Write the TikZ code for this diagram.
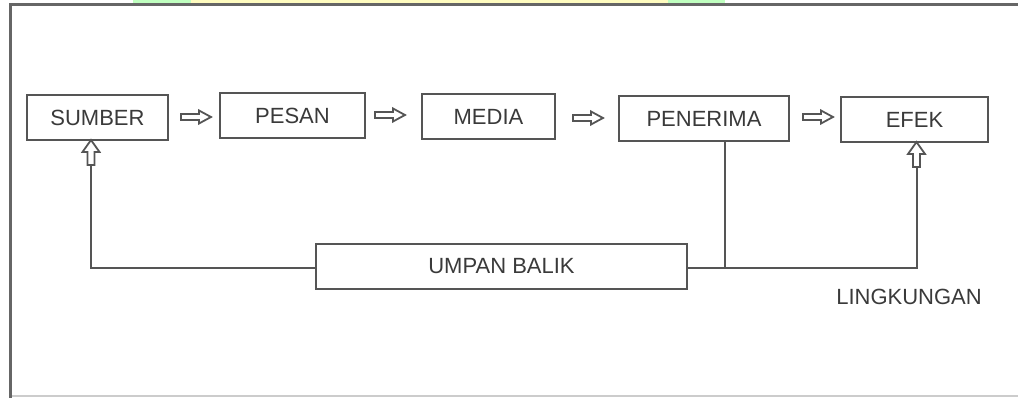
\documentclass[tikz,border=0pt]{standalone}
\usepackage{fontspec}
\setmainfont{Liberation Sans}
\usetikzlibrary{calc}
\definecolor{lin}{HTML}{555555}
\definecolor{txt}{HTML}{3A3A3A}
\tikzset{
  box/.style={draw=lin, line width=2pt, fill=white, text=txt, inner sep=0pt, font=\fontsize{22}{24}\selectfont},
  wire/.style={draw=lin, line width=2pt},
  hollowarrow/.pic={
    \draw[lin, line width=1.8pt, line join=miter, fill=white]
      (0,-3)--(18,-3)--(18,-6.5)--(30,0)--(18,6.5)--(18,3)--(0,3)--cycle;
  },
  uparrow/.pic={
    \draw[lin, line width=1.8pt, line join=miter, fill=white]
      (-3.5,0)--(-3.5,-13)--(-8.5,-13)--(0,-25)--(8.5,-13)--(3.5,-13)--(3.5,0)--cycle;
  }
}
\begin{document}
\begin{tikzpicture}[x=1pt,y=-1pt]
\useasboundingbox (0,0) rectangle (1018,398);
% faint strips at the top edge
\fill[green!25] (133,0) rectangle (191,4);
\fill[yellow!25] (191,0) rectangle (668,4);
\fill[green!25] (668,0) rectangle (725,4);
% frame
\draw[color=black!20, line width=1.5pt] (10,396) -- (1018,396);
\draw[color=black!60, line width=3pt] (1018,5) -- (10,5) -- (10,398);

% boxes
\node[box, minimum width=141pt, minimum height=45pt] (sumber) at (97.5,117.5) {SUMBER};
\node[box, minimum width=145pt, minimum height=45pt] (pesan) at (292.5,115.5) {PESAN};
\node[box, minimum width=133pt, minimum height=45pt] (media) at (488.5,116.5) {MEDIA};
\node[box, minimum width=170pt, minimum height=45pt] (penerima) at (704,118.5) {PENERIMA};
\node[box, minimum width=147pt, minimum height=45pt] (efek) at (914.5,119.5) {EFEK};
\node[box, minimum width=371pt, minimum height=45pt] (umpan) at (501.5,266.5) {UMPAN BALIK};
\node[text=txt, font=\fontsize{22}{24}\selectfont, inner sep=0pt] (lingkungan) at (909,297) {LINGKUNGAN};

% forward arrows
\pic at (181,117) {hollowarrow};
\pic at (375,115) {hollowarrow};
\pic at (573,118) {hollowarrow};
\pic at (803,117) {hollowarrow};

% feedback
\coordinate (sumtip) at (91,140);
\coordinate (sumtail) at (91,165);
\coordinate (eftip) at (916.5,142);
\coordinate (eftail) at (916.5,167);
\coordinate (pendrop) at (725,141);
\coordinate (penjoin) at (725,268);

\draw[wire] (umpan.west |- 0,268) -| (sumtail);
\draw[wire] (umpan.east |- 0,268) -| (eftail);
\draw[wire] (pendrop) -- (penjoin);
\pic at (sumtail) {uparrow};
\pic at (eftail) {uparrow};
\end{tikzpicture}
\end{document}
